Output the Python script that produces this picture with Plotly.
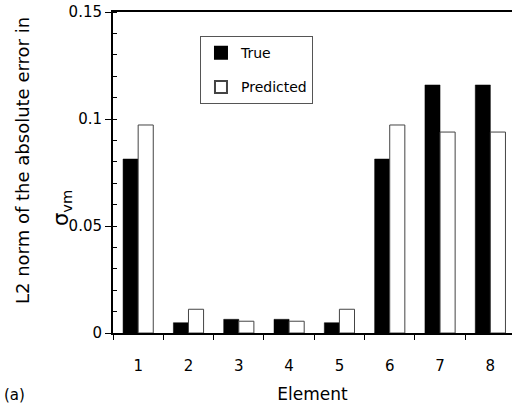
import plotly.graph_objects as go

elements = ["1", "2", "3", "4", "5", "6", "7", "8"]
true_vals = [0.0813, 0.0048, 0.0064, 0.0064, 0.0048, 0.0813, 0.1159, 0.1159]
pred_vals = [0.0972, 0.0111, 0.0055, 0.0055, 0.0111, 0.0972, 0.0939, 0.0939]
y_tickvals = [0, 0.05, 0.1, 0.15]
y_ticktext = ["0", "0.05", "0.1", "0.15"]

FONT = "DejaVu Sans"

fig = go.Figure()
fig.add_trace(go.Bar(x=elements, y=true_vals, name="True", legendgroup="t",
                     marker=dict(color="black", line=dict(color="black", width=0.5))))
fig.add_trace(go.Bar(x=elements, y=pred_vals, name="Predicted", legendgroup="p",
                     marker=dict(color="white", line=dict(color="#444444", width=1))))

fig.update_layout(
    width=512, height=407,
    margin=dict(l=113, r=0, t=12, b=74),
    paper_bgcolor="white", plot_bgcolor="white",
    barmode="group", bargap=0.4, bargroupgap=0,
    font=dict(family=FONT, size=15, color="black"),
    showlegend=True,
    legend=dict(x=0.218, y=0.925, xanchor="left", yanchor="top",
                bordercolor="#555555", borderwidth=1, bgcolor="white",
                font=dict(size=14), tracegroupgap=13, itemwidth=30,
                itemsizing="constant"),
)

fig.update_xaxes(
    type="category", range=[-0.5, 7.43],
    showline=True, linecolor="black", linewidth=2, mirror=True,
    ticks="outside", tickson="boundaries", ticklen=5, tickcolor="black", tickwidth=1,
    ticklabelstandoff=18,
    tickfont=dict(size=15),
    title=dict(text="Element", font=dict(size=17), standoff=14),
    showgrid=False, zeroline=False,
)

fig.update_yaxes(
    range=[0, 0.15],
    tickvals=y_tickvals, ticktext=y_ticktext,
    showline=True, linecolor="black", linewidth=2,
    ticks="outside", ticklen=6, tickcolor="black", tickwidth=1,
    tickfont=dict(size=15),
    minor=dict(dtick=0.01, ticks="inside", ticklen=4, tickcolor="black", tickwidth=1, showgrid=False),
    showgrid=False, zeroline=False,
)

fig.add_annotation(text="L2 norm of the absolute error in", xref="paper", yref="paper",
                   x=(22 - 113) / 399, y=(333 - 161) / 321, textangle=-90,
                   xanchor="center", yanchor="middle", showarrow=False,
                   font=dict(size=18, family=FONT))
fig.add_annotation(text="σ<sub>vm</sub>", xref="paper", yref="paper",
                   x=(62 - 113) / 399, y=(333 - 208) / 321, textangle=-90,
                   xanchor="center", yanchor="middle", showarrow=False,
                   font=dict(size=21, family=FONT))
fig.add_annotation(text="(a)", xref="paper", yref="paper", x=(14 - 113) / 399, y=(333 - 395) / 321,
                   xanchor="center", yanchor="middle", showarrow=False,
                   font=dict(size=15, family=FONT))

fig.write_html("out.html")
